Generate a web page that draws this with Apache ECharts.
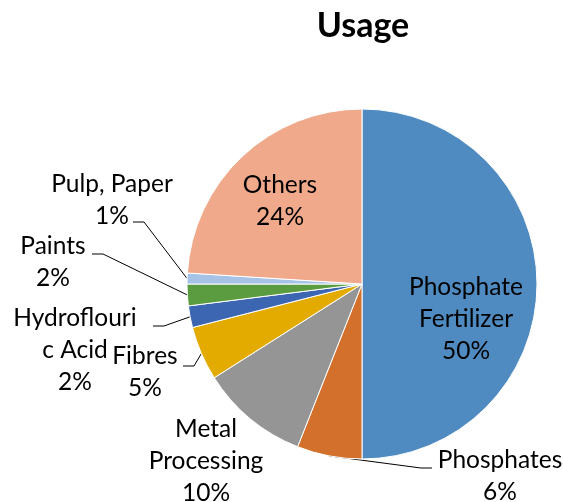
<!DOCTYPE html>
<html><head><meta charset="utf-8">
<style>html,body{margin:0;padding:0;background:#fff}#c{width:563px;height:502px}</style>
<script src="https://cdn.jsdelivr.net/npm/echarts@6/dist/echarts.min.js"></script>
</head><body><div id="c"></div>
<script>
// Data
var categories = ['Phosphate Fertilizer','Phosphates','Metal Processing','Fibres','Hydroflouric Acid','Paints','Pulp, Paper','Others'];
var labelNames = ['Phosphate\nFertilizer','Phosphates','Metal\nProcessing','Fibres','Hydroflouri\nc Acid','Paints','Pulp, Paper','Others'];
var values = [50, 6, 10, 5, 2, 2, 1, 24];
var colors = ['#4F8BC1','#D3702B','#959595','#E3AA00','#3C66B2','#5B9C41','#A6C2E6','#F0A98A'];

// label placement (style/layout)
var CX = 362, CY = 284, R = 175;
var labelPos = [[466,319],[500,476],[206,461],[145,372],[75,350],[53,262],[112,200],[280,201]];
var lineEnd = [null,[432,468],null,[183,366],[153,326],[92,254],[133,222],null];
var inside = [true,false,false,false,false,false,false,true];
var showLine = [false,true,false,true,true,true,true,false];

var total = values.reduce(function(a,b){return a+b;},0);
function edgePoint(i){
  var before = 0;
  for (var k=0;k<i;k++) before += values[k];
  var frac = (before + values[i]/2) / total;
  var ang = frac * 2 * Math.PI; // clockwise from top
  return [CX + R*Math.sin(ang), CY - R*Math.cos(ang)];
}

var chart = echarts.init(document.getElementById('c'), null, {renderer:'canvas'});
var FONT = 'Lato, "Open Sans", sans-serif';
var data = values.map(function(v,i){
  return {
    name: categories[i], value: v,
    itemStyle: {color: colors[i]},
    label: {position: inside[i] ? 'inside' : 'outside'},
    labelLine: {show: showLine[i], lineStyle:{color:'#000', width:1}}
  };
});
chart.setOption({
  animation: false,
  title: {text:'Usage', left: 358, top: 4, textAlign:'center',
    textStyle:{fontFamily:FONT, fontWeight:'bold', fontSize:34, color:'#000'}},
  series: [{
    type:'pie',
    center:[CX,CY], radius:[0,R],
    startAngle:90, clockwise:true,
    avoidLabelOverlap:false,
    itemStyle:{borderColor:'#fff', borderWidth:1},
    label:{
      fontFamily:FONT, fontSize:24.5, lineHeight:32, color:'#000', align:'center',
      formatter:function(p){ return labelNames[p.dataIndex] + '\n' + Math.round(p.percent) + '%'; }
    },
    labelLine:{length:10, length2:10},
    labelLayout:function(p){
      var i = p.dataIndex;
      var pos = labelPos[i];
      var res = {x: pos[0], y: pos[1], align:'center', verticalAlign:'middle'};
      if (showLine[i]) {
        var end = lineEnd[i];
        var dir = end[0] < CX ? 1 : -1;
        var mid = [end[0] + dir*11, end[1]];
        res.labelLinePoints = [edgePoint(i), mid, end];
      }
      return res;
    },
    data: data
  }]
});
</script></body></html>
